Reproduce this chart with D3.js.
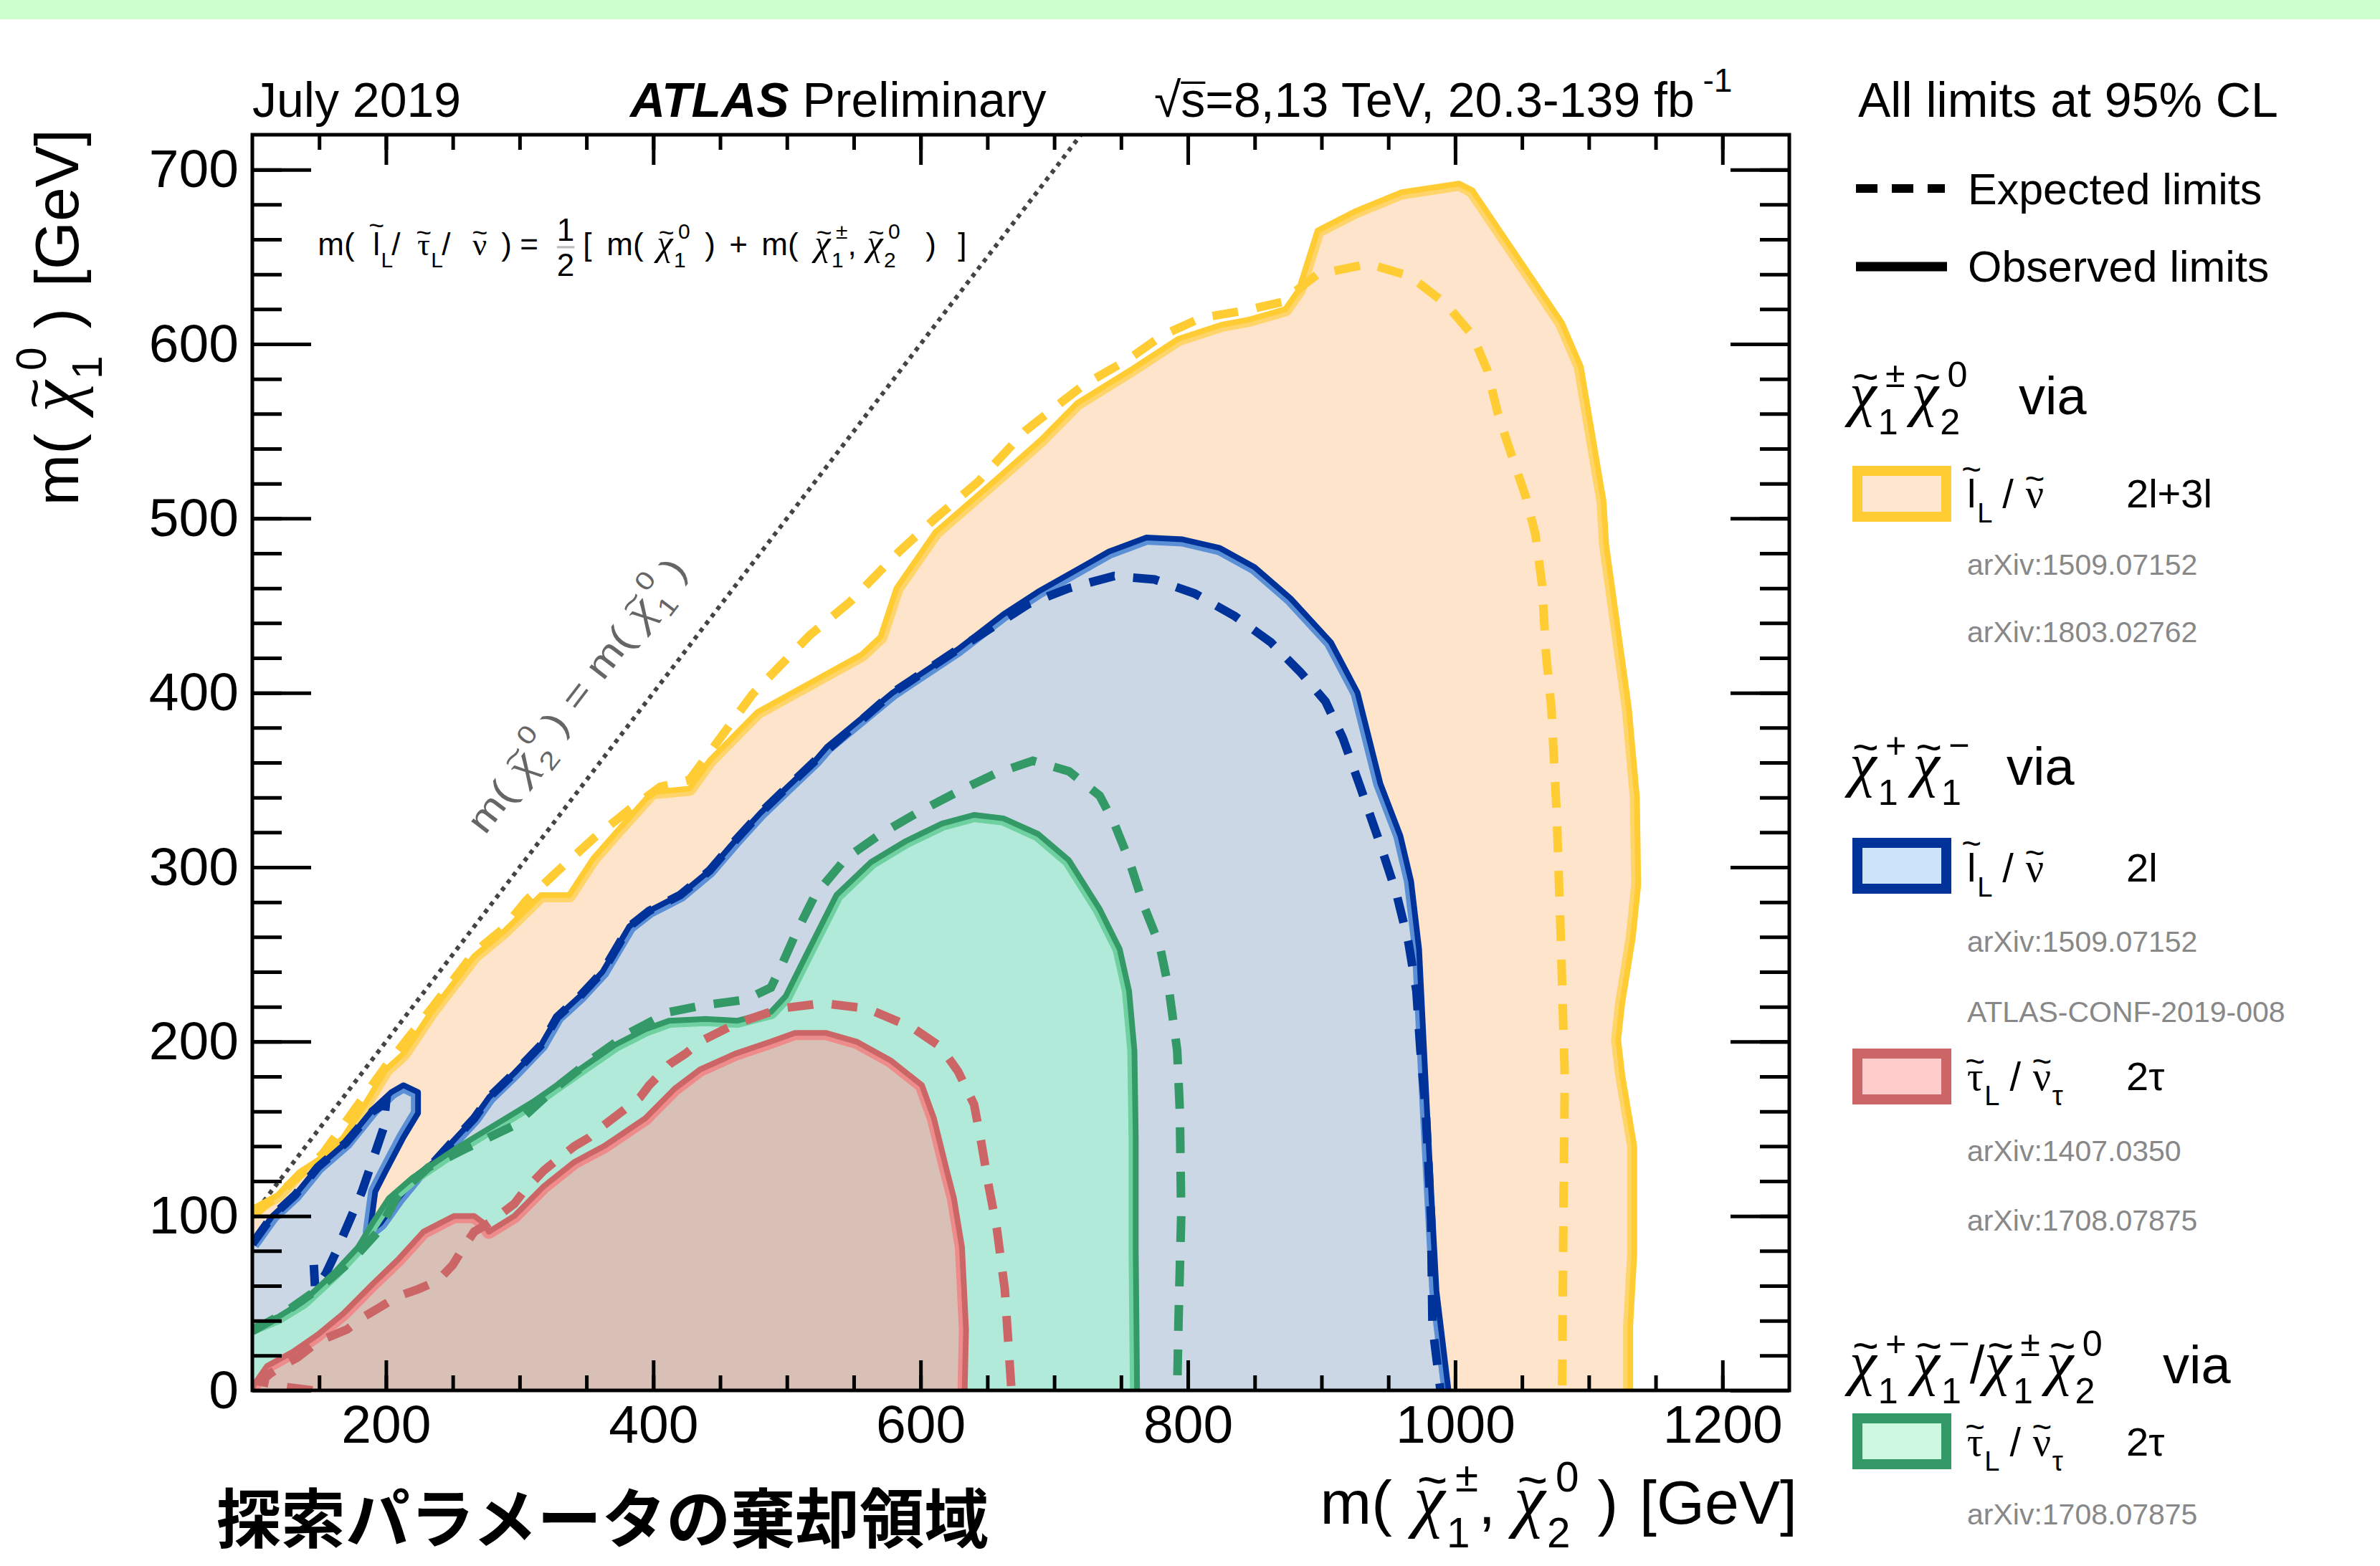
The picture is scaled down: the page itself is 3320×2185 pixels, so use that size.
<!DOCTYPE html>
<html lang="ja">
<head>
<meta charset="utf-8">
<title>Electroweakino exclusion limits</title>
<script src="https://d3js.org/d3.v7.min.js"></script>
<style>
  body { margin: 0; background: #fff; }
  text { white-space: pre; }
</style>
</head>
<body>
<div id="chart"></div>
<script>
// ---------------- data (all masses in GeV) ----------------
const xMajor = [200, 400, 600, 800, 1000, 1200];
const yMajor = [0, 100, 200, 300, 400, 500, 600, 700];

// chi1+- chi2^0 via slepton/sneutrino, 2l+3l
const yellowObs = [[100,101],[102,105],[119,112],[135,125],[153,134],[168,145],[185,165],[200,184],[213,193],[234,217],
  [266,249],[288,263],[316,284],[337,284],[355,305],[371,319],[399,343],[427,345],[442,361],[478,389],[556,422],[570,432],
  [582,460],[611,492],[659,524],[690,545],[717,566],[757,585],[793,603],[825,611],[846,614],[873,620],[883,631],[897,665],
  [925,676],[960,687],[1003,692],[1013,688],[1058,637],[1080,612],[1094,587],[1111,510],[1113,485],[1130,391],[1136,340],
  [1137,290],[1133,260],[1125,222],[1122,201],[1125,181],[1134,140],[1134,78],[1131,37],[1131,0]];
const yellowExp = [[100,100],[119,112],[153,136],[200,186],[234,219],[266,251],[288,265],[305,281],[333,301],[356,317],
  [382,333],[405,346],[427,350],[474,399],[517,433],[547,452],[584,481],[611,500],[643,521],[678,550],[706,567],[723,577],
  [755,591],[781,605],[810,615],[841,619],[870,624],[897,640],[935,646],[966,639],[993,623],[1013,605],[1024,585],[1032,560],
  [1041,539],[1053,512],[1060,491],[1065,462],[1068,422],[1072,391],[1076,330],[1079,260],[1082,180],[1081,100],[1080,0]];

// chi1+ chi1- via slepton/sneutrino, 2l
const blueObs = [[100,84],[115,100],[132,112],[149,128],[170,142],[190,161],[204,171],[213,175],[224,171],[224,159],
  [213,145],[200,126],[192,114],[188,91],[196,96],[209,110],[224,124],[236,131],[249,142],[266,156],[277,168],[296,182],
  [316,198],[328,214],[345,226],[362,240],[382,266],[397,275],[420,284],[442,298],[461,315],[480,331],[499,345],[521,361],
  [530,369],[579,400],[628,425],[662,445],[688,458],[741,481],[769,489],[796,488],[824,483],[850,472],[877,454],[907,429],
  [927,400],[944,348],[959,318],[967,292],[973,253],[976,206],[980,144],[983,100],[986,57],[995,0]];
const blueExp = [[236,131],[249,142],[266,156],[277,168],[296,182],[316,198],[328,214],[345,226],[362,240],[382,266],
  [397,275],[420,284],[442,298],[461,315],[480,331],[499,345],[521,361],[579,400],[628,425],[681,451],[711,460],[745,467],
  [775,465],[805,457],[835,444],[862,429],[884,412],[903,395],[916,374],[929,346],[944,313],[956,285],[965,257],[971,229],
  [974,195],[978,160],[982,98],[983,37],[989,0]];
const blueExpIsland = [[100,84],[115,100],[132,112],[149,128],[170,142],[190,160],[200,165],[198,150],[190,132],[182,114],
  [172,96],[163,80],[155,67],[147,58],[146,72]];

// chi1+ chi1- / chi1+- chi2^0 via stau/sneutrino, 2tau
const greenObs = [[100,36],[119,42],[138,51],[162,68],[179,82],[190,96],[202,110],[220,122],[251,138],[281,152],[311,166],
  [341,182],[371,198],[394,207],[412,212],[439,213],[463,212],[488,217],[499,226],[514,249],[537,284],[563,303],[589,315],
  [616,325],[640,330],[662,328],[688,319],[711,304],[734,276],[749,253],[756,229],[760,195],[761,144],[761,80],[762,0]];
const greenExp = [[100,34],[123,44],[149,58],[175,75],[194,91],[209,112],[232,128],[258,138],[296,152],[326,173],[356,191],
  [382,205],[412,217],[439,221],[469,224],[488,231],[495,242],[506,261],[521,284],[544,305],[570,319],[597,331],[627,343],
  [657,354],[684,361],[711,355],[734,341],[745,325],[756,304],[767,278],[779,255],[786,229],[792,195],[794,160],[795,100],
  [793,40],[792,0]];

// chi1+ chi1- via stau/sneutrino, 2tau
const redObs = [[100,0],[101,3],[111,14],[130,22],[149,32],[168,44],[190,61],[209,75],[228,91],[251,100],[266,100],[273,96],
  [277,91],[296,100],[318,117],[341,131],[363,140],[394,156],[416,173],[435,184],[461,193],[488,200],[506,205],[529,205],
  [552,200],[578,189],[601,175],[610,156],[619,128],[625,110],[631,82],[634,35],[633,0]];
const redExp = [[145,0],[125,2],[106,5],[114,10],[122,14],[134,19],[149,28],[171,35],[183,42],[194,47],[209,54],[224,58],
  [239,63],[250,72],[258,82],[266,91],[277,96],[296,107],[303,114],[318,126],[326,131],[341,140],[352,145],[363,152],
  [375,159],[390,168],[397,175],[412,187],[424,193],[435,200],[461,210],[495,219],[527,222],[560,219],[594,208],[615,197],
  [628,183],[640,164],[645,144],[651,117],[657,93],[663,58],[666,23],[668,0]];

const diagonal = [[100,100],[720,720]];

// ---------------- layout ----------------
const W = 3320, H = 2185;
const M = {left: 352, top: 188, right: 2496, bottom: 1940};
const SANS = "'Liberation Sans', Arial, Helvetica, sans-serif";
const SERIF = "'Liberation Serif', 'DejaVu Serif', serif";

const svg = d3.select("#chart").append("svg")
    .attr("width", W).attr("height", H)
    .style("display", "block");

svg.append("rect").attr("x", 0).attr("y", 0).attr("width", W).attr("height", 27).attr("fill", "#ccffcc");

const x = d3.scaleLinear().domain([100, 1250]).range([M.left, M.right]);
const y = d3.scaleLinear().domain([0, 720]).range([M.bottom, M.top]);
const line = d3.line().x(d => x(d[0])).y(d => y(d[1]));

const defs = svg.append("defs");
defs.append("clipPath").attr("id", "plotclip")
  .append("rect").attr("x", M.left).attr("y", M.top)
  .attr("width", M.right - M.left).attr("height", M.bottom - M.top);

const plot = svg.append("g").attr("clip-path", "url(#plotclip)");

// region outline = observed contour closed along the axes
function regionPath(data) {
  const pts = data[0][1] === 0 ? data : data.concat([[100, 0]]);
  return line(pts) + "Z";
}
function fillRegion(id, data, color) {
  defs.append("clipPath").attr("id", id).append("path").attr("d", regionPath(data));
  plot.append("path").attr("d", regionPath(data)).attr("fill", color).attr("stroke", "none");
}
fillRegion("cy", yellowObs, "#fee4cb");
fillRegion("cb", blueObs, "#cbd7e5");
fillRegion("cg", greenObs, "#b2eada");
fillRegion("cr", redObs, "#d8c0b7");

// kinematic limit line
plot.append("path").attr("d", line(diagonal))
  .attr("fill", "none").attr("stroke", "#444").attr("stroke-width", 6).attr("stroke-dasharray", "6,7");

// observed: dark line with a lighter band on the excluded side
function solid(id, data, dark, light) {
  plot.append("g").attr("clip-path", `url(#${id})`)
    .append("path").attr("d", line(data)).attr("fill", "none")
    .attr("stroke", light).attr("stroke-width", 20).attr("stroke-linejoin", "round");
  plot.append("path").attr("d", line(data)).attr("fill", "none")
    .attr("stroke", dark).attr("stroke-width", 8).attr("stroke-linejoin", "round");
}
function dashed(data, color) {
  plot.append("path").attr("d", line(data)).attr("fill", "none")
    .attr("stroke", color).attr("stroke-width", 12).attr("stroke-dasharray", "36,26");
}
solid("cy", yellowObs, "#ffcc33", "#ffd56b");
dashed(yellowExp, "#ffcc33");
solid("cb", blueObs, "#003399", "#5b8fd6");
dashed(blueExp, "#003399");
dashed(blueExpIsland, "#003399");
solid("cg", greenObs, "#339966", "#6fd0a0");
dashed(greenExp, "#339966");
solid("cr", redObs, "#cc6666", "#ee8c8c");
dashed(redExp, "#cc6666");

// ---------------- axes ----------------
function styleAxis(g, labels) {
  g.select(".domain").remove();
  g.selectAll(".tick line").attr("stroke", "#000").attr("stroke-width", 5);
  g.attr("font-size", 75).attr("font-family", SANS);
  g.selectAll(".tick text").attr("fill", "#000");
  if (!labels) g.selectAll(".tick text").remove();
}
const xMinor = d3.range(150, 1250, 50);
const yMinor = d3.range(20, 720, 20);

svg.append("g").attr("transform", `translate(0,${M.bottom})`)
  .call(d3.axisBottom(x).tickValues(xMinor).tickSize(-21)).call(g => styleAxis(g, false));
svg.append("g").attr("transform", `translate(0,${M.bottom})`)
  .call(d3.axisBottom(x).tickValues(xMajor).tickSize(-42).tickPadding(20).tickFormat(d3.format("d")))
  .call(g => styleAxis(g, true));
svg.append("g").attr("transform", `translate(0,${M.top})`)
  .call(d3.axisTop(x).tickValues(xMinor).tickSize(-21)).call(g => styleAxis(g, false));
svg.append("g").attr("transform", `translate(0,${M.top})`)
  .call(d3.axisTop(x).tickValues(xMajor).tickSize(-42)).call(g => styleAxis(g, false));

svg.append("g").attr("transform", `translate(${M.left},0)`)
  .call(d3.axisLeft(y).tickValues(yMinor).tickSize(-41)).call(g => styleAxis(g, false));
svg.append("g").attr("transform", `translate(${M.left},0)`)
  .call(d3.axisLeft(y).tickValues(yMajor).tickSize(-82).tickPadding(19).tickFormat(d3.format("d")))
  .call(g => styleAxis(g, true));
svg.append("g").attr("transform", `translate(${M.right},0)`)
  .call(d3.axisRight(y).tickValues(yMinor).tickSize(-41)).call(g => styleAxis(g, false));
svg.append("g").attr("transform", `translate(${M.right},0)`)
  .call(d3.axisRight(y).tickValues(yMajor).tickSize(-82)).call(g => styleAxis(g, false));

svg.append("rect").attr("x", M.left).attr("y", M.top)
  .attr("width", M.right - M.left).attr("height", M.bottom - M.top)
  .attr("fill", "none").attr("stroke", "#000").attr("stroke-width", 5);

// ---------------- rich text (ROOT-like latex) ----------------
function rich(parent, px, py, parts, size, o = {}) {
  const outer = parent.append("g")
    .attr("transform", `translate(${px},${py})` + (o.rotate ? ` rotate(${o.rotate})` : ""));
  const g = outer.append("g");
  const fill = o.fill || "#000";
  let cx = 0;
  function put(str, tx, ty, fs, fam, italic, anchor) {
    const t = g.append("text").attr("x", tx).attr("y", ty).attr("font-size", fs)
      .attr("font-family", fam).attr("fill", fill).text(str);
    if (italic) t.attr("font-style", "italic");
    if (anchor) t.attr("text-anchor", anchor);
    return t.node().getComputedTextLength();
  }
  function measure(str, fs) {
    const t = g.append("text").attr("font-size", fs).attr("font-family", SANS).text(str);
    const w = t.node().getComputedTextLength();
    t.remove();
    return w;
  }
  parts.forEach(p => {
    if (typeof p === "string") p = {t: p};
    if (p.at !== undefined) cx = p.at;
    if (p.sp !== undefined) cx += p.sp * size;
    if (p.t !== undefined) {
      const fs = size * (p.scale || 1);
      const w = put(p.t, cx, 0, fs, p.g ? SERIF : SANS, p.i);
      if (p.tilde) {
        const dy = p.tilde === "high" ? -0.66 * size : -0.42 * size;
        put("~", cx + w / 2 + (p.i ? 0.05 * size : 0), dy, 0.85 * size, SANS, false, "middle");
      }
      if (p.over) {
        g.append("line").attr("x1", cx).attr("x2", cx + w).attr("y1", -0.7 * size).attr("y2", -0.7 * size)
          .attr("stroke", fill).attr("stroke-width", 0.05 * size);
      }
      cx += w;
    }
    if (p.sub !== undefined || p.sup !== undefined) {
      const fs = 0.68 * size;
      let w = 0;
      cx += 0.03 * size;
      if (p.sup !== undefined) w = Math.max(w, 0.14 * size + put(p.sup, cx + 0.14 * size, -0.52 * size, fs, SANS));
      if (p.sub !== undefined) w = Math.max(w, put(p.sub, cx, 0.38 * size, fs, SANS));
      cx += w;
    }
    if (p.frac) {
      const gap = 0.08 * size;
      const w = Math.max(measure(p.frac[0], size), measure(p.frac[1], size));
      put(p.frac[0], cx + gap + w / 2, -0.45 * size, size, SANS, false, "middle");
      put(p.frac[1], cx + gap + w / 2, 0.66 * size, size, SANS, false, "middle");
      g.append("line").attr("x1", cx + gap).attr("x2", cx + gap + w)
        .attr("y1", -0.25 * size).attr("y2", -0.25 * size)
        .attr("stroke", "#bbb").attr("stroke-width", 0.07 * size);
      cx += w + 2 * gap;
    }
  });
  const k = o.fit ? o.fit / cx : 1;
  let shift = 0;
  if (o.anchor === "end") shift = -cx * k;
  if (o.anchor === "middle") shift = -cx * k / 2;
  g.attr("transform", `translate(${shift},0) scale(${k},1)`);
  return outer;
}
const chi = {t: "χ", g: true, i: true, tilde: true, scale: 1.15};
const nu = {t: "ν", g: true, tilde: true};
const tau = {t: "τ", g: true, tilde: true};
const slep = {t: "l", tilde: "high"};

// ---------------- titles ----------------
svg.append("text").attr("x", 352).attr("y", 163).attr("font-size", 68).attr("font-family", SANS)
  .text("July 2019");
const atl = svg.append("text").attr("x", 879).attr("y", 163).attr("font-size", 68).attr("font-family", SANS);
atl.append("tspan").attr("font-weight", "bold").attr("font-style", "italic").text("ATLAS");
atl.append("tspan").text(" Preliminary");
rich(svg, 1610, 163, [{t: "√"}, {t: "s", over: true}, "=8,13 TeV, 20.3-139 fb", {sup: "-1"}], 68);
svg.append("text").attr("x", 2592).attr("y", 163).attr("font-size", 68).attr("font-family", SANS)
  .text("All limits at 95% CL");

// axis titles
rich(svg, 2507, 2126, ["m(", {sp: 0.35}, chi, {sub: "1", sup: "±"}, ",", {sp: 0.3}, chi, {sub: "2", sup: "0"},
  {sp: 0.3}, ")", {sp: 0.35}, "[GeV]"], 86, {anchor: "end"});
rich(svg, 109, 180, ["m(", {sp: 0.35}, chi, {sub: "1", sup: "0"}, {sp: 0.3}, ")", {sp: 0.35}, "[GeV]"], 86,
  {anchor: "end", rotate: -90});

// in-plot annotations
rich(svg, x(149), y(651), [{at: 0}, "m(", {at: 77}, slep, {sub: "L"}, {at: 103}, "/", {at: 139}, tau, {sub: "L"},
  {at: 173}, "/", {at: 216}, nu, {at: 256}, ")", {at: 282}, "=", {at: 330}, {frac: ["1", "2"]}, {at: 370}, "[",
  {at: 403}, "m(", {at: 473}, chi, {sub: "1", sup: "0"}, {at: 540}, ")", {at: 574}, "+", {at: 619}, "m(",
  {at: 693}, chi, {sub: "1", sup: "±"}, ",", {at: 766}, chi, {sub: "2", sup: "0"}, {at: 848}, ")", {at: 893}, "]"], 44);
const ang = -Math.atan((y(0) - y(100)) / (x(200) - x(100))) * 180 / Math.PI;
rich(svg, x(274), y(318), ["m(", {sp: 0.3}, chi, {sub: "2", sup: "0"}, {sp: 0.25}, ")", {sp: 0.3}, "=", {sp: 0.3},
  "m(", {sp: 0.3}, chi, {sub: "1", sup: "0"}, {sp: 0.25}, ")"], 52, {rotate: ang, fill: "#666", fit: 467});

// Japanese caption
svg.append("text").attr("x", 302).attr("y", 2152).attr("font-size", 90)
  .attr("font-family", "'Noto Sans CJK JP', sans-serif").attr("font-weight", "bold")
  .text("探索パラメータの棄却領域");

// ---------------- legend ----------------
svg.append("line").attr("x1", 2589).attr("x2", 2713).attr("y1", 263).attr("y2", 263)
  .attr("stroke", "#000").attr("stroke-width", 12).attr("stroke-dasharray", "30,20");
svg.append("text").attr("x", 2745).attr("y", 285).attr("font-size", 61).attr("font-family", SANS).text("Expected limits");
svg.append("line").attr("x1", 2589).attr("x2", 2716).attr("y1", 372).attr("y2", 372)
  .attr("stroke", "#000").attr("stroke-width", 13);
svg.append("text").attr("x", 2745).attr("y", 393).attr("font-size", 61).attr("font-family", SANS).text("Observed limits");

const headers = [
  {y: 578, parts: [chi, {sub: "1", sup: "±"}, {sp: 0.12}, chi, {sub: "2", sup: "0"}, {at: 236}, "via"]},
  {y: 1095, parts: [chi, {sub: "1", sup: "+"}, {sp: 0.12}, chi, {sub: "1", sup: "−"}, {at: 219}, "via"]},
  {y: 1930, parts: [chi, {sub: "1", sup: "+"}, {sp: 0.12}, chi, {sub: "1", sup: "−"}, "/", chi, {sub: "1", sup: "±"},
    {sp: 0.12}, chi, {sub: "2", sup: "0"}, {at: 437}, "via"]}
];
headers.forEach(h => rich(svg, 2580, h.y, h.parts, 74));

const slepLabel = [slep, {sub: "L"}, {sp: 0.25}, "/", {sp: 0.3}, nu];
const stauLabel = [tau, {sub: "L"}, {sp: 0.25}, "/", {sp: 0.3}, nu, {sub: "τ"}];
const entries = [
  {boxTop: 650, text: 708, fill: "#fee6d0", stroke: "#ffcc33", label: slepLabel, channel: "2l+3l"},
  {boxTop: 1169, text: 1230, fill: "#cce4fa", stroke: "#003399", label: slepLabel, channel: "2l"},
  {boxTop: 1463, text: 1521, fill: "#ffcccc", stroke: "#cc6666", label: stauLabel, channel: "2τ"},
  {boxTop: 1972, text: 2031, fill: "#ccf8e0", stroke: "#339966", label: stauLabel, channel: "2τ"}
];
entries.forEach(e => {
  svg.append("rect").attr("x", 2591).attr("y", e.boxTop + 7).attr("width", 124).attr("height", 64)
    .attr("fill", e.fill).attr("stroke", e.stroke).attr("stroke-width", 14);
  rich(svg, 2744, e.text, e.label, 56);
  svg.append("text").attr("x", 2966).attr("y", e.text).attr("font-size", 56).attr("font-family", SANS).text(e.channel);
});

const refs = [
  {y: 802, t: "arXiv:1509.07152"}, {y: 896, t: "arXiv:1803.02762"},
  {y: 1328, t: "arXiv:1509.07152"}, {y: 1426, t: "ATLAS-CONF-2019-008"},
  {y: 1620, t: "arXiv:1407.0350"}, {y: 1717, t: "arXiv:1708.07875"},
  {y: 2127, t: "arXiv:1708.07875"}
];
svg.selectAll("text.ref").data(refs).enter().append("text").attr("class", "ref")
  .attr("x", 2744).attr("y", d => d.y).attr("font-size", 41).attr("font-family", SANS)
  .attr("fill", "#888").text(d => d.t);
</script>
</body>
</html>
